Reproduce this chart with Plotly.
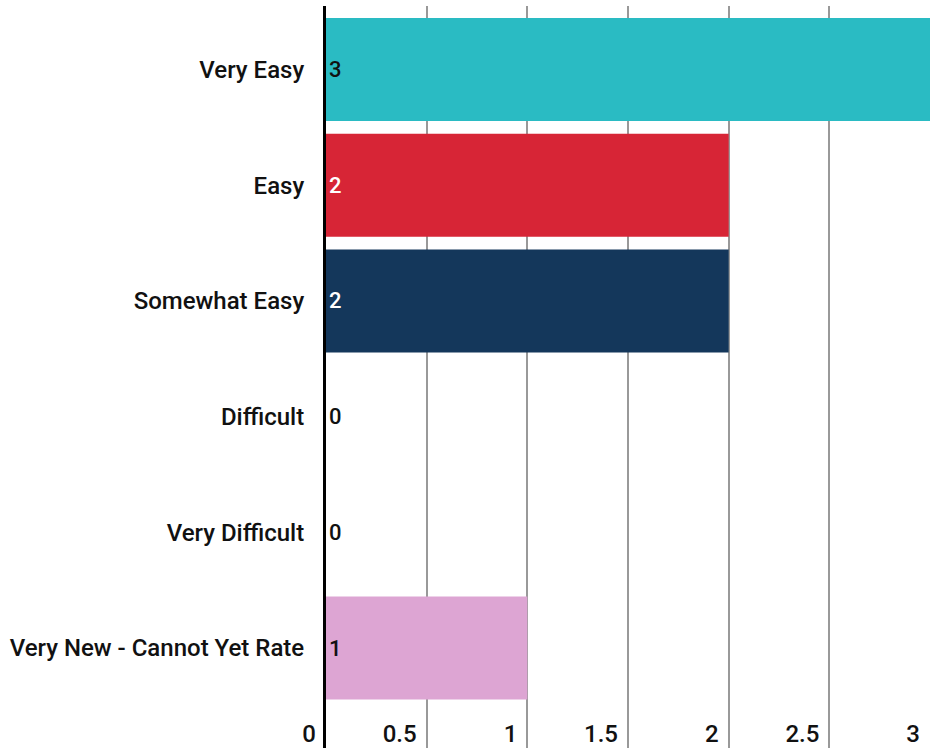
import plotly.graph_objects as go

categories = ["Very Easy", "Easy", "Somewhat Easy", "Difficult", "Very Difficult",
              "Very New - Cannot Yet Rate"]
values = [3, 2, 2, 0, 0, 1]
bar_colors = ["#2ABBC3", "#D72536", "#14375B", "#888888", "#888888", "#DDA5D3"]
label_colors = ["#111111", "#FFFFFF", "#FFFFFF", "#111111", "#111111", "#111111"]
x_ticks = [0, 0.5, 1, 1.5, 2, 2.5, 3]
x_tick_labels = ["0", "0.5", "1", "1.5", "2", "2.5", "3"]

FONT = "Roboto"
SIZE = 24
W = 500

fig = go.Figure(go.Bar(
    x=values,
    y=categories,
    orientation="h",
    marker=dict(color=bar_colors, line=dict(width=0)),
    text=[str(v) for v in values],
    textposition=["inside" if v > 0 else "outside" for v in values],
    insidetextanchor="start",
    textfont=dict(family=FONT, size=22, color=label_colors, weight=W),
    outsidetextfont=dict(family=FONT, size=22, color=label_colors, weight=W),
    insidetextfont=dict(family=FONT, size=22, color=label_colors, weight=W),
    cliponaxis=False,
    textangle=0,
    hoverinfo="skip",
))

fig.update_layout(
    template="none",
    width=930, height=748,
    margin=dict(l=326, r=0, t=6, b=0, pad=0),
    paper_bgcolor="white", plot_bgcolor="white",
    bargap=0.11,
    showlegend=False,
    font=dict(family=FONT, size=SIZE, color="#111111", weight=W),
)
fig.update_xaxes(
    automargin=False,
    range=[0, 3],
    tickvals=x_ticks, ticktext=x_tick_labels,
    ticklabelposition="inside left",
    ticklabeloverflow="allow",
    ticklabelshift=-10,
    ticklabelstandoff=-5,
    showgrid=True, gridcolor="#999999", gridwidth=1.5,
    zeroline=False, showline=False, ticks="",
    tickfont=dict(family=FONT, size=SIZE, color="#111111", weight=W),
)
fig.update_yaxes(
    automargin=False,
    categoryorder="array", categoryarray=categories,
    range=[5.864, -0.549],
    showline=True, linecolor="#000000", linewidth=3,
    ticks="", ticklabelstandoff=14,
    showgrid=False, zeroline=False,
    tickfont=dict(family=FONT, size=SIZE, color="#111111", weight=W),
)

fig.write_html(
    "out.html",
    config={"displayModeBar": False},
    post_script="document.body.style.margin='0';document.body.style.overflow='hidden';",
)
